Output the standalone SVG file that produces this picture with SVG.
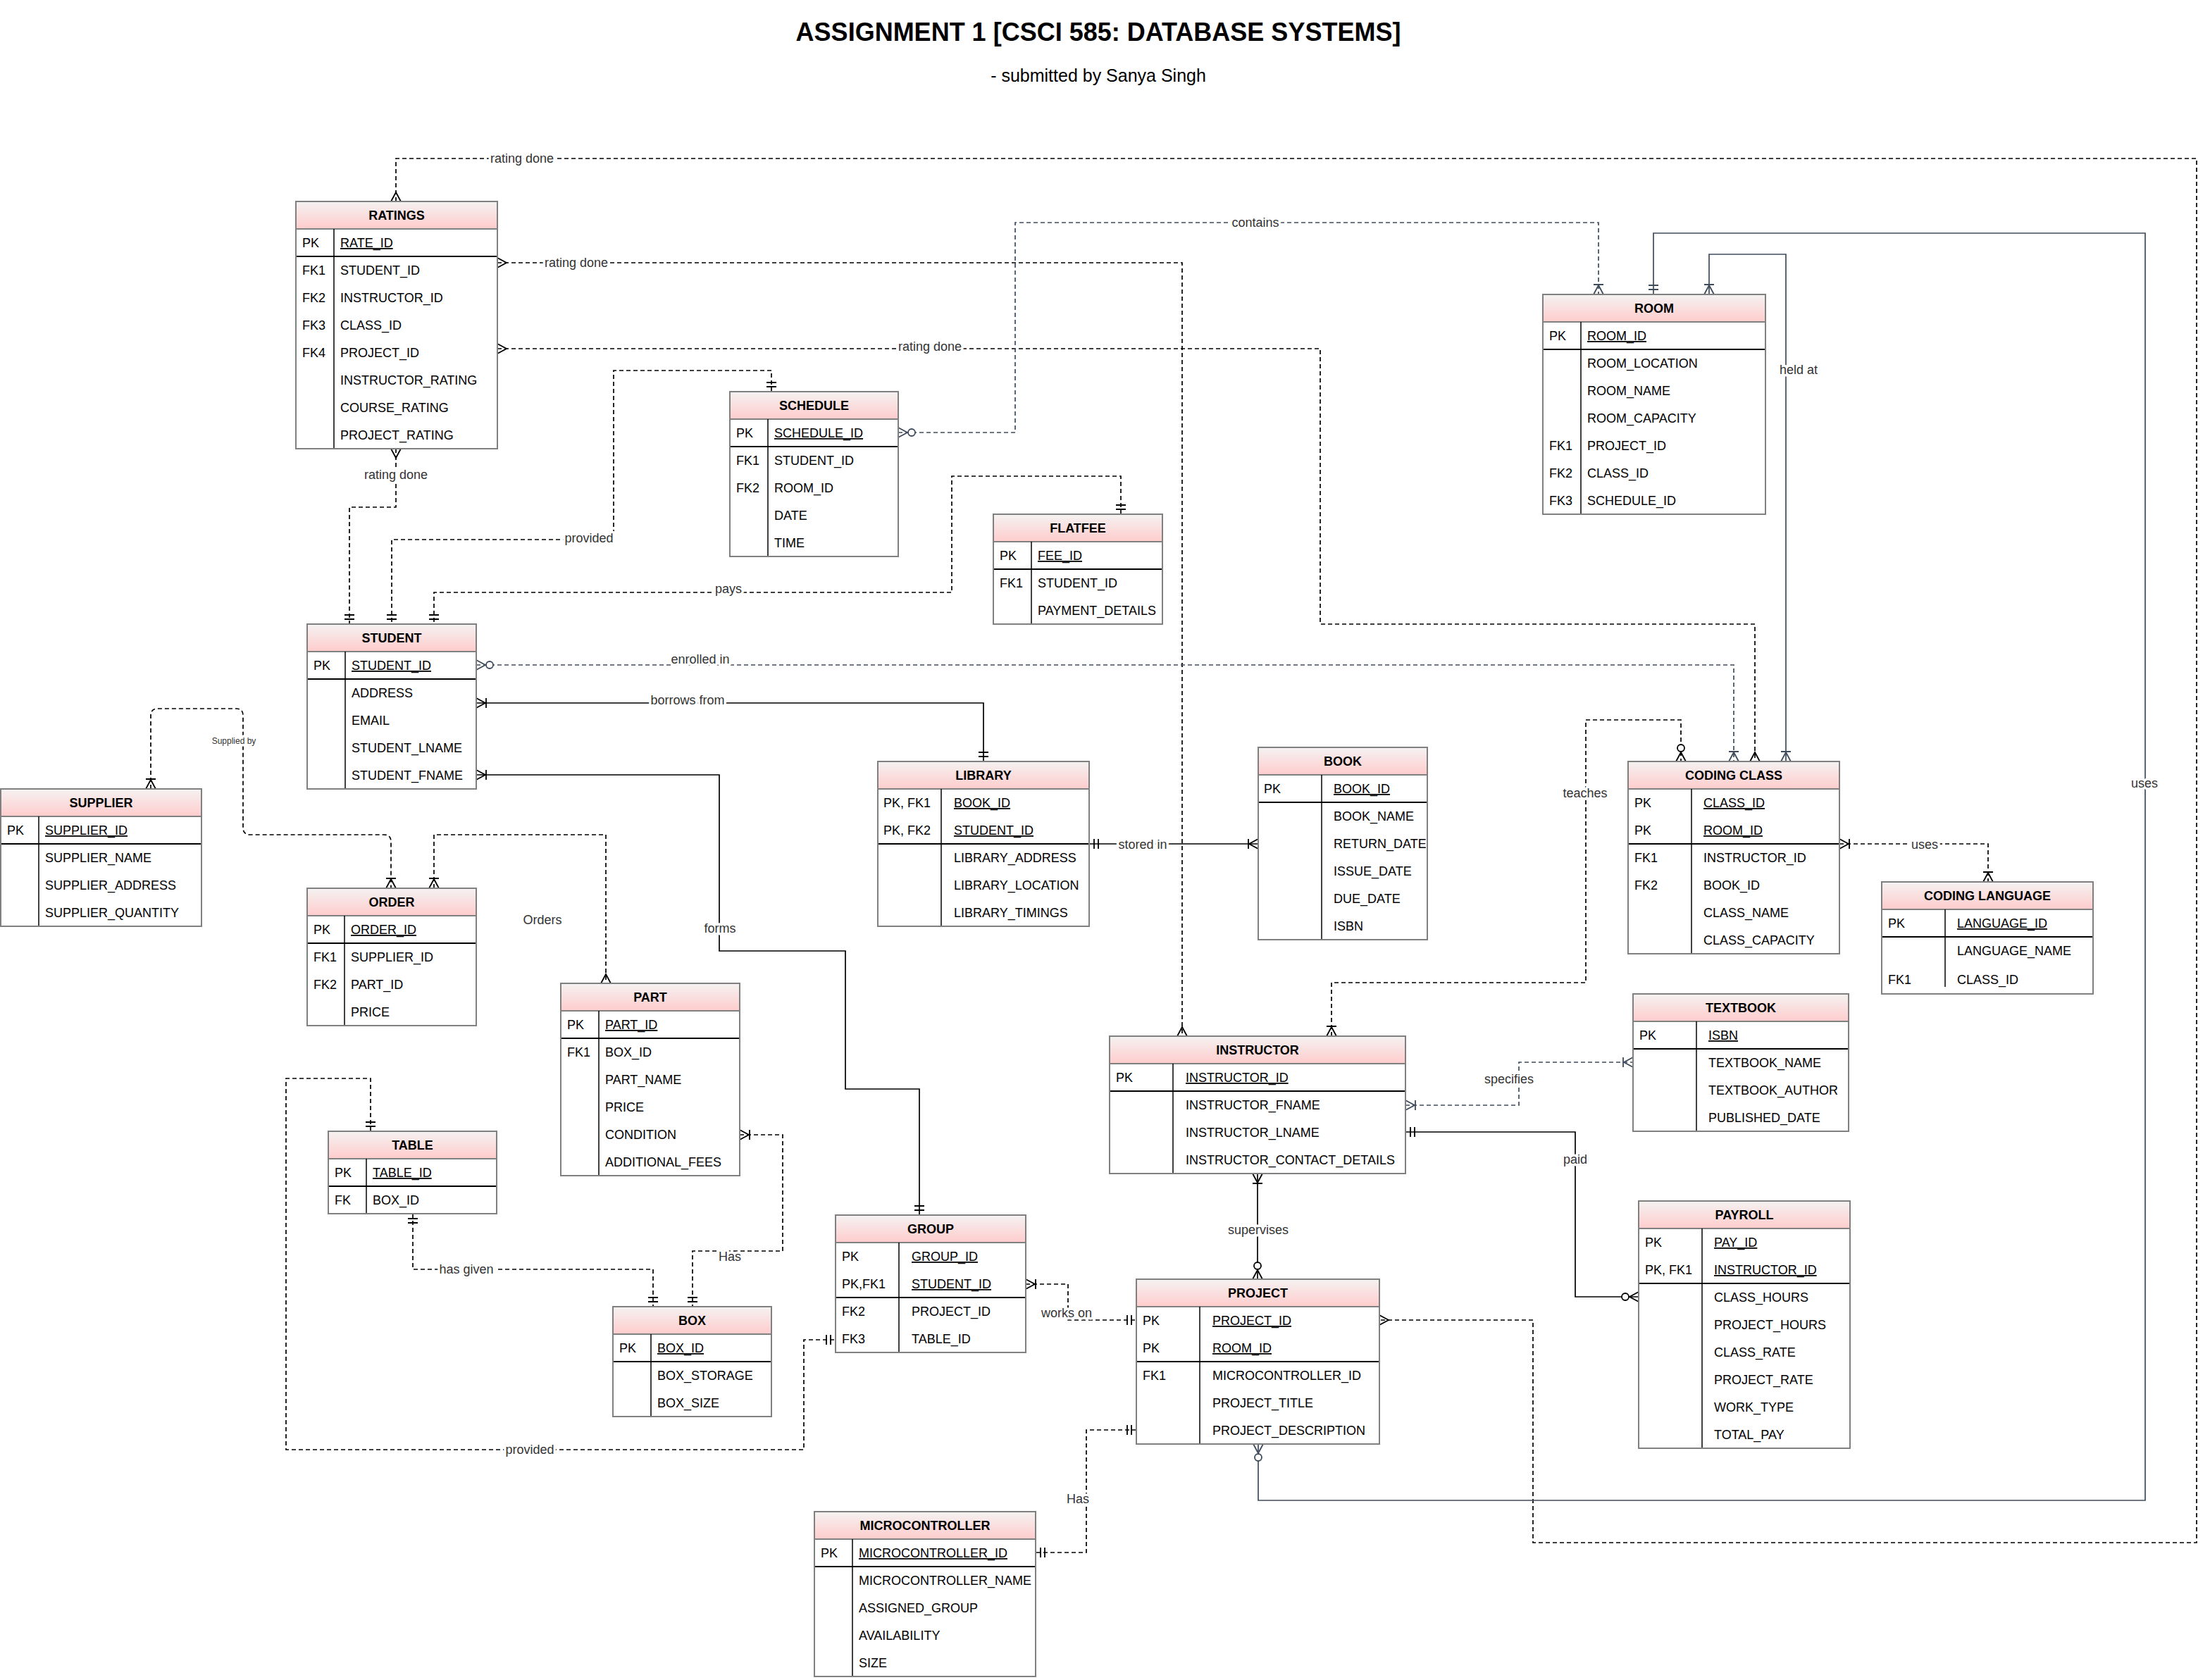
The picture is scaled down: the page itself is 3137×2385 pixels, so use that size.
<svg xmlns="http://www.w3.org/2000/svg" width="3137" height="2385" viewBox="0 0 3137 2385">
<defs>
<linearGradient id="hg" x1="0" y1="0" x2="0" y2="1">
<stop offset="0" stop-color="#f5f2f2"/>
<stop offset="1" stop-color="#ffcccc"/>
</linearGradient>
<clipPath id="clipBook"><rect x="1786" y="1061" width="238" height="273"/></clipPath>
<marker id="oneB" markerUnits="userSpaceOnUse" orient="auto-start-reverse" viewBox="-30 -15 40 30" markerWidth="40" markerHeight="30" refX="0" refY="0" overflow="visible"><path d="M-7,-7V7M-13,-7V7" fill="none" stroke="#000" stroke-width="1.8"/></marker>
<marker id="manyB" markerUnits="userSpaceOnUse" orient="auto-start-reverse" viewBox="-30 -15 40 30" markerWidth="40" markerHeight="30" refX="0" refY="0" overflow="visible"><path d="M0,-7L-13,0L0,7" fill="none" stroke="#000" stroke-width="1.8"/></marker>
<marker id="omB" markerUnits="userSpaceOnUse" orient="auto-start-reverse" viewBox="-30 -15 40 30" markerWidth="40" markerHeight="30" refX="0" refY="0" overflow="visible"><path d="M0,-7L-13,0L0,7M-14,-7V7" fill="none" stroke="#000" stroke-width="1.8"/></marker>
<marker id="zmB" markerUnits="userSpaceOnUse" orient="auto-start-reverse" viewBox="-30 -15 40 30" markerWidth="40" markerHeight="30" refX="0" refY="0" overflow="visible"><path d="M0,-7L-13,0L0,7" fill="none" stroke="#000" stroke-width="1.8"/><circle cx="-19" cy="0" r="5" fill="#fff" stroke="#000" stroke-width="1.8"/></marker>
<marker id="oneS" markerUnits="userSpaceOnUse" orient="auto-start-reverse" viewBox="-30 -15 40 30" markerWidth="40" markerHeight="30" refX="0" refY="0" overflow="visible"><path d="M-7,-7V7M-13,-7V7" fill="none" stroke="#3f4b5b" stroke-width="1.8"/></marker>
<marker id="omS" markerUnits="userSpaceOnUse" orient="auto-start-reverse" viewBox="-30 -15 40 30" markerWidth="40" markerHeight="30" refX="0" refY="0" overflow="visible"><path d="M0,-7L-13,0L0,7M-14,-7V7" fill="none" stroke="#3f4b5b" stroke-width="1.8"/></marker>
<marker id="zmS" markerUnits="userSpaceOnUse" orient="auto-start-reverse" viewBox="-30 -15 40 30" markerWidth="40" markerHeight="30" refX="0" refY="0" overflow="visible"><path d="M0,-7L-13,0L0,7" fill="none" stroke="#3f4b5b" stroke-width="1.8"/><circle cx="-19" cy="0" r="5" fill="#fff" stroke="#3f4b5b" stroke-width="1.8"/></marker>
</defs>
<style>
.c{fill:none;stroke:#000;stroke-width:1.7}
.d{stroke-dasharray:6 4}
.s{stroke:#3f4b5b}
.lbl{font-family:"Liberation Sans",Arial,sans-serif;font-size:18px;fill:#333;text-anchor:middle;paint-order:stroke;stroke:#fff;stroke-width:7px;stroke-linejoin:round}
.sm{font-size:12px}
.body{fill:#fff}
.hdr{fill:url(#hg);stroke:#808080;stroke-width:2}
.frame{fill:none;stroke:#808080;stroke-width:2}
.dv{stroke:#000;stroke-width:1.5}
.sp{stroke:#000;stroke-width:2}
.t{font-family:"Liberation Sans",Arial,sans-serif;font-size:18px;fill:#000}
.h{font-weight:bold;text-anchor:middle}
.u{text-decoration:underline}
.ttl{font-family:"Liberation Sans",Arial,sans-serif;fill:#000;text-anchor:middle}
</style>
<rect x="0" y="0" width="3137" height="2385" fill="#fff"/>
<text class="ttl" x="1559" y="58" font-size="36" font-weight="bold">ASSIGNMENT 1 [CSCI 585: DATABASE SYSTEMS]</text>
<text class="ttl" x="1559" y="116" font-size="25">- submitted by Sanya Singh</text>

<g id="connectors">
<path class="c d" d="M562,286V225H3118V2190H2176V1874H1958" marker-start="url(#manyB)" marker-end="url(#manyB)"/>
<path class="c d" d="M706,373H1678V1471" marker-start="url(#manyB)" marker-end="url(#manyB)"/>
<path class="c d" d="M706,495H1874V886H2491V1081" marker-start="url(#manyB)" marker-end="url(#manyB)"/>
<path class="c d" d="M562,637V720H496V886" marker-start="url(#manyB)" marker-end="url(#oneB)"/>
<path class="c d" d="M1095,556V526H871V766H556V886" marker-start="url(#oneB)" marker-end="url(#oneB)"/>
<path class="c d" d="M1591,730V676H1351V841H616V886" marker-start="url(#oneB)" marker-end="url(#oneB)"/>
<path class="c d s" d="M1275,614H1441V316H2269V418" marker-start="url(#zmS)" marker-end="url(#omS)"/>
<path class="c s" d="M2347,418V331H3045V2130H1786V2050" marker-start="url(#oneS)" marker-end="url(#zmS)"/>
<path class="c s" d="M2426,418V361H2535V1081" marker-start="url(#omS)" marker-end="url(#omS)"/>
<path class="c d s" d="M676,944H2461V1081" marker-start="url(#zmS)" marker-end="url(#omS)"/>
<path class="c" d="M676,998H1396V1081" marker-start="url(#omB)" marker-end="url(#oneB)"/>
<path class="c" d="M676,1100H1021V1350H1200V1546H1305V1725" marker-start="url(#omB)" marker-end="url(#oneB)"/>
<path class="c" d="M1546,1198H1786" marker-start="url(#oneB)" marker-end="url(#omB)"/>
<path class="c d" d="M214,1120V1016Q214,1006 224,1006H335Q345,1006 345,1016V1175Q345,1185 355,1185H545Q555,1185 555,1195V1261" marker-start="url(#omB)" marker-end="url(#omB)"/>
<path class="c d" d="M616,1261V1185H860V1396" marker-start="url(#omB)" marker-end="url(#manyB)"/>
<path class="c d" d="M526,1606V1531H406V2058H1141V1902H1186" marker-start="url(#oneB)" marker-end="url(#oneB)"/>
<path class="c d" d="M586,1723V1802H927V1855" marker-start="url(#oneB)" marker-end="url(#oneB)"/>
<path class="c d" d="M1050,1611H1111V1776H983V1855" marker-start="url(#omB)" marker-end="url(#oneB)"/>
<path class="c d" d="M1456,1823H1516V1874H1613" marker-start="url(#omB)" marker-end="url(#oneB)"/>
<path class="c d" d="M1613,2030H1542V2204H1470" marker-start="url(#oneB)" marker-end="url(#oneB)"/>
<path class="c" d="M1785,1666V1816" marker-start="url(#omB)" marker-end="url(#zmB)"/>
<path class="c d s" d="M1995,1569H2156V1508H2318" marker-start="url(#omS)" marker-end="url(#omS)"/>
<path class="c" d="M1995,1607H2236V1841H2326" marker-start="url(#oneB)" marker-end="url(#zmB)"/>
<path class="c d" d="M1890,1471V1395H2251V1022H2386V1081" marker-start="url(#omB)" marker-end="url(#zmB)"/>
<path class="c d" d="M2611,1198H2822V1252" marker-start="url(#omB)" marker-end="url(#omB)"/>
<text class="lbl" x="741" y="231">rating done</text>
<text class="lbl" x="818" y="379">rating done</text>
<text class="lbl" x="1320" y="498">rating done</text>
<text class="lbl" x="562" y="680">rating done</text>
<text class="lbl" x="1782" y="322">contains</text>
<text class="lbl" x="2553" y="531">held at</text>
<text class="lbl" x="836" y="770">provided</text>
<text class="lbl" x="1034" y="842">pays</text>
<text class="lbl" x="994" y="942">enrolled in</text>
<text class="lbl" x="976" y="1000">borrows from</text>
<text class="lbl" x="1022" y="1324">forms</text>
<text class="lbl" x="1622" y="1205">stored in</text>
<text class="lbl sm" x="332" y="1056">Supplied by</text>
<text class="lbl" x="770" y="1312">Orders</text>
<text class="lbl" x="2250" y="1132">teaches</text>
<text class="lbl" x="2732" y="1205">uses</text>
<text class="lbl" x="3044" y="1118">uses</text>
<text class="lbl" x="2142" y="1538">specifies</text>
<text class="lbl" x="2236" y="1652">paid</text>
<text class="lbl" x="1786" y="1752">supervises</text>
<text class="lbl" x="662" y="1808">has given</text>
<text class="lbl" x="1036" y="1790">Has</text>
<text class="lbl" x="1514" y="1870">works on</text>
<text class="lbl" x="752" y="2064">provided</text>
<text class="lbl" x="1530" y="2134">Has</text>
</g>

<g id="ratings">
<rect class="body" x="420" y="286" width="286" height="351"/>
<rect class="hdr" x="420" y="286" width="286" height="39"/>
<line class="dv" x1="474" y1="325" x2="474" y2="637"/>
<line class="sp" x1="420" y1="364" x2="706" y2="364"/>
<rect class="frame" x="420" y="286" width="286" height="351"/>
<text class="t h" x="563" y="312">RATINGS</text>
<text class="t" x="429" y="351">PK</text><text class="t u" x="483" y="351">RATE_ID</text>
<text class="t" x="429" y="390">FK1</text><text class="t" x="483" y="390">STUDENT_ID</text>
<text class="t" x="429" y="429">FK2</text><text class="t" x="483" y="429">INSTRUCTOR_ID</text>
<text class="t" x="429" y="468">FK3</text><text class="t" x="483" y="468">CLASS_ID</text>
<text class="t" x="429" y="507">FK4</text><text class="t" x="483" y="507">PROJECT_ID</text>
<text class="t" x="483" y="546">INSTRUCTOR_RATING</text>
<text class="t" x="483" y="585">COURSE_RATING</text>
<text class="t" x="483" y="624">PROJECT_RATING</text>
</g>

<g id="schedule">
<rect class="body" x="1036" y="556" width="239" height="234"/>
<rect class="hdr" x="1036" y="556" width="239" height="39"/>
<line class="dv" x1="1090" y1="595" x2="1090" y2="790"/>
<line class="sp" x1="1036" y1="634" x2="1275" y2="634"/>
<rect class="frame" x="1036" y="556" width="239" height="234"/>
<text class="t h" x="1155.5" y="582">SCHEDULE</text>
<text class="t" x="1045" y="621">PK</text><text class="t u" x="1099" y="621">SCHEDULE_ID</text>
<text class="t" x="1045" y="660">FK1</text><text class="t" x="1099" y="660">STUDENT_ID</text>
<text class="t" x="1045" y="699">FK2</text><text class="t" x="1099" y="699">ROOM_ID</text>
<text class="t" x="1099" y="738">DATE</text>
<text class="t" x="1099" y="777">TIME</text>
</g>

<g id="flatfee">
<rect class="body" x="1410" y="730" width="240" height="156"/>
<rect class="hdr" x="1410" y="730" width="240" height="39"/>
<line class="dv" x1="1464" y1="769" x2="1464" y2="886"/>
<line class="sp" x1="1410" y1="808" x2="1650" y2="808"/>
<rect class="frame" x="1410" y="730" width="240" height="156"/>
<text class="t h" x="1530" y="756">FLATFEE</text>
<text class="t" x="1419" y="795">PK</text><text class="t u" x="1473" y="795">FEE_ID</text>
<text class="t" x="1419" y="834">FK1</text><text class="t" x="1473" y="834">STUDENT_ID</text>
<text class="t" x="1473" y="873">PAYMENT_DETAILS</text>
</g>

<g id="room">
<rect class="body" x="2190" y="418" width="316" height="312"/>
<rect class="hdr" x="2190" y="418" width="316" height="39"/>
<line class="dv" x1="2244" y1="457" x2="2244" y2="730"/>
<line class="sp" x1="2190" y1="496" x2="2506" y2="496"/>
<rect class="frame" x="2190" y="418" width="316" height="312"/>
<text class="t h" x="2348" y="444">ROOM</text>
<text class="t" x="2199" y="483">PK</text><text class="t u" x="2253" y="483">ROOM_ID</text>
<text class="t" x="2253" y="522">ROOM_LOCATION</text>
<text class="t" x="2253" y="561">ROOM_NAME</text>
<text class="t" x="2253" y="600">ROOM_CAPACITY</text>
<text class="t" x="2199" y="639">FK1</text><text class="t" x="2253" y="639">PROJECT_ID</text>
<text class="t" x="2199" y="678">FK2</text><text class="t" x="2253" y="678">CLASS_ID</text>
<text class="t" x="2199" y="717">FK3</text><text class="t" x="2253" y="717">SCHEDULE_ID</text>
</g>

<g id="student">
<rect class="body" x="436" y="886" width="240" height="234"/>
<rect class="hdr" x="436" y="886" width="240" height="39"/>
<line class="dv" x1="490" y1="925" x2="490" y2="1120"/>
<line class="sp" x1="436" y1="964" x2="676" y2="964"/>
<rect class="frame" x="436" y="886" width="240" height="234"/>
<text class="t h" x="556" y="912">STUDENT</text>
<text class="t" x="445" y="951">PK</text><text class="t u" x="499" y="951">STUDENT_ID</text>
<text class="t" x="499" y="990">ADDRESS</text>
<text class="t" x="499" y="1029">EMAIL</text>
<text class="t" x="499" y="1068">STUDENT_LNAME</text>
<text class="t" x="499" y="1107">STUDENT_FNAME</text>
</g>

<g id="supplier">
<rect class="body" x="1" y="1120" width="285" height="195"/>
<rect class="hdr" x="1" y="1120" width="285" height="39"/>
<line class="dv" x1="55" y1="1159" x2="55" y2="1315"/>
<line class="sp" x1="1" y1="1198" x2="286" y2="1198"/>
<rect class="frame" x="1" y="1120" width="285" height="195"/>
<text class="t h" x="143.5" y="1146">SUPPLIER</text>
<text class="t" x="10" y="1185">PK</text><text class="t u" x="64" y="1185">SUPPLIER_ID</text>
<text class="t" x="64" y="1224">SUPPLIER_NAME</text>
<text class="t" x="64" y="1263">SUPPLIER_ADDRESS</text>
<text class="t" x="64" y="1302">SUPPLIER_QUANTITY</text>
</g>

<g id="order">
<rect class="body" x="436" y="1261" width="240" height="195"/>
<rect class="hdr" x="436" y="1261" width="240" height="39"/>
<line class="dv" x1="489" y1="1300" x2="489" y2="1456"/>
<line class="sp" x1="436" y1="1339" x2="676" y2="1339"/>
<rect class="frame" x="436" y="1261" width="240" height="195"/>
<text class="t h" x="556" y="1287">ORDER</text>
<text class="t" x="445" y="1326">PK</text><text class="t u" x="498" y="1326">ORDER_ID</text>
<text class="t" x="445" y="1365">FK1</text><text class="t" x="498" y="1365">SUPPLIER_ID</text>
<text class="t" x="445" y="1404">FK2</text><text class="t" x="498" y="1404">PART_ID</text>
<text class="t" x="498" y="1443">PRICE</text>
</g>

<g id="library">
<rect class="body" x="1246" y="1081" width="300" height="234"/>
<rect class="hdr" x="1246" y="1081" width="300" height="39"/>
<line class="dv" x1="1336" y1="1120" x2="1336" y2="1315"/>
<line class="sp" x1="1246" y1="1198" x2="1546" y2="1198"/>
<rect class="frame" x="1246" y="1081" width="300" height="234"/>
<text class="t h" x="1396" y="1107">LIBRARY</text>
<text class="t" x="1254" y="1146">PK, FK1</text><text class="t u" x="1354" y="1146">BOOK_ID</text>
<text class="t" x="1254" y="1185">PK, FK2</text><text class="t u" x="1354" y="1185">STUDENT_ID</text>
<text class="t" x="1354" y="1224">LIBRARY_ADDRESS</text>
<text class="t" x="1354" y="1263">LIBRARY_LOCATION</text>
<text class="t" x="1354" y="1302">LIBRARY_TIMINGS</text>
</g>

<g id="book">
<rect class="body" x="1786" y="1061" width="240" height="273"/>
<rect class="hdr" x="1786" y="1061" width="240" height="39"/>
<line class="dv" x1="1876" y1="1100" x2="1876" y2="1334"/>
<line class="sp" x1="1786" y1="1139" x2="2026" y2="1139"/>
<text class="t h" x="1906" y="1087">BOOK</text>
<text class="t" x="1794" y="1126">PK</text>
<g clip-path="url(#clipBook)">
<text class="t u" x="1893" y="1126">BOOK_ID</text>
<text class="t" x="1893" y="1165">BOOK_NAME</text>
<text class="t" x="1893" y="1204">RETURN_DATE</text>
<text class="t" x="1893" y="1243">ISSUE_DATE</text>
<text class="t" x="1893" y="1282">DUE_DATE</text>
<text class="t" x="1893" y="1321">ISBN</text>
</g>
<rect class="frame" x="1786" y="1061" width="240" height="273"/>
</g>

<g id="coding-class">
<rect class="body" x="2311" y="1081" width="300" height="273"/>
<rect class="hdr" x="2311" y="1081" width="300" height="39"/>
<line class="dv" x1="2401" y1="1120" x2="2401" y2="1354"/>
<line class="sp" x1="2311" y1="1198" x2="2611" y2="1198"/>
<rect class="frame" x="2311" y="1081" width="300" height="273"/>
<text class="t h" x="2461" y="1107">CODING CLASS</text>
<text class="t" x="2320" y="1146">PK</text><text class="t u" x="2418" y="1146">CLASS_ID</text>
<text class="t" x="2320" y="1185">PK</text><text class="t u" x="2418" y="1185">ROOM_ID</text>
<text class="t" x="2320" y="1224">FK1</text><text class="t" x="2418" y="1224">INSTRUCTOR_ID</text>
<text class="t" x="2320" y="1263">FK2</text><text class="t" x="2418" y="1263">BOOK_ID</text>
<text class="t" x="2418" y="1302">CLASS_NAME</text>
<text class="t" x="2418" y="1341">CLASS_CAPACITY</text>
</g>

<g id="coding-language">
<rect class="body" x="2671" y="1252" width="300" height="159"/>
<rect class="hdr" x="2671" y="1252" width="300" height="39"/>
<line class="dv" x1="2761" y1="1291" x2="2761" y2="1401"/>
<line class="sp" x1="2671" y1="1330" x2="2971" y2="1330"/>
<rect class="frame" x="2671" y="1252" width="300" height="159"/>
<text class="t h" x="2821" y="1278">CODING LANGUAGE</text>
<text class="t" x="2680" y="1317">PK</text><text class="t u" x="2778" y="1317">LANGUAGE_ID</text>
<text class="t" x="2778" y="1356">LANGUAGE_NAME</text>
<text class="t" x="2680" y="1397">FK1</text><text class="t" x="2778" y="1397">CLASS_ID</text>
</g>

<g id="textbook">
<rect class="body" x="2318" y="1411" width="306" height="195"/>
<rect class="hdr" x="2318" y="1411" width="306" height="39"/>
<line class="dv" x1="2408" y1="1450" x2="2408" y2="1606"/>
<line class="sp" x1="2318" y1="1489" x2="2624" y2="1489"/>
<rect class="frame" x="2318" y="1411" width="306" height="195"/>
<text class="t h" x="2471" y="1437">TEXTBOOK</text>
<text class="t" x="2327" y="1476">PK</text><text class="t u" x="2425" y="1476">ISBN</text>
<text class="t" x="2425" y="1515">TEXTBOOK_NAME</text>
<text class="t" x="2425" y="1554">TEXTBOOK_AUTHOR</text>
<text class="t" x="2425" y="1593">PUBLISHED_DATE</text>
</g>

<g id="instructor">
<rect class="body" x="1575" y="1471" width="420" height="195"/>
<rect class="hdr" x="1575" y="1471" width="420" height="39"/>
<line class="dv" x1="1665" y1="1510" x2="1665" y2="1666"/>
<line class="sp" x1="1575" y1="1549" x2="1995" y2="1549"/>
<rect class="frame" x="1575" y="1471" width="420" height="195"/>
<text class="t h" x="1785" y="1497">INSTRUCTOR</text>
<text class="t" x="1584" y="1536">PK</text><text class="t u" x="1683" y="1536">INSTRUCTOR_ID</text>
<text class="t" x="1683" y="1575">INSTRUCTOR_FNAME</text>
<text class="t" x="1683" y="1614">INSTRUCTOR_LNAME</text>
<text class="t" x="1683" y="1653">INSTRUCTOR_CONTACT_DETAILS</text>
</g>

<g id="part">
<rect class="body" x="796" y="1396" width="254" height="273"/>
<rect class="hdr" x="796" y="1396" width="254" height="39"/>
<line class="dv" x1="850" y1="1435" x2="850" y2="1669"/>
<line class="sp" x1="796" y1="1474" x2="1050" y2="1474"/>
<rect class="frame" x="796" y="1396" width="254" height="273"/>
<text class="t h" x="923" y="1422">PART</text>
<text class="t" x="805" y="1461">PK</text><text class="t u" x="859" y="1461">PART_ID</text>
<text class="t" x="805" y="1500">FK1</text><text class="t" x="859" y="1500">BOX_ID</text>
<text class="t" x="859" y="1539">PART_NAME</text>
<text class="t" x="859" y="1578">PRICE</text>
<text class="t" x="859" y="1617">CONDITION</text>
<text class="t" x="859" y="1656">ADDITIONAL_FEES</text>
</g>

<g id="table">
<rect class="body" x="466" y="1606" width="239" height="117"/>
<rect class="hdr" x="466" y="1606" width="239" height="39"/>
<line class="dv" x1="520" y1="1645" x2="520" y2="1723"/>
<line class="sp" x1="466" y1="1684" x2="705" y2="1684"/>
<rect class="frame" x="466" y="1606" width="239" height="117"/>
<text class="t h" x="585.5" y="1632">TABLE</text>
<text class="t" x="475" y="1671">PK</text><text class="t u" x="529" y="1671">TABLE_ID</text>
<text class="t" x="475" y="1710">FK</text><text class="t" x="529" y="1710">BOX_ID</text>
</g>

<g id="box">
<rect class="body" x="870" y="1855" width="225" height="156"/>
<rect class="hdr" x="870" y="1855" width="225" height="39"/>
<line class="dv" x1="924" y1="1894" x2="924" y2="2011"/>
<line class="sp" x1="870" y1="1933" x2="1095" y2="1933"/>
<rect class="frame" x="870" y="1855" width="225" height="156"/>
<text class="t h" x="982.5" y="1881">BOX</text>
<text class="t" x="879" y="1920">PK</text><text class="t u" x="933" y="1920">BOX_ID</text>
<text class="t" x="933" y="1959">BOX_STORAGE</text>
<text class="t" x="933" y="1998">BOX_SIZE</text>
</g>

<g id="group">
<rect class="body" x="1186" y="1725" width="270" height="195"/>
<rect class="hdr" x="1186" y="1725" width="270" height="39"/>
<line class="dv" x1="1276" y1="1764" x2="1276" y2="1920"/>
<line class="sp" x1="1186" y1="1842" x2="1456" y2="1842"/>
<rect class="frame" x="1186" y="1725" width="270" height="195"/>
<text class="t h" x="1321" y="1751">GROUP</text>
<text class="t" x="1195" y="1790">PK</text><text class="t u" x="1294" y="1790">GROUP_ID</text>
<text class="t" x="1195" y="1829">PK,FK1</text><text class="t u" x="1294" y="1829">STUDENT_ID</text>
<text class="t" x="1195" y="1868">FK2</text><text class="t" x="1294" y="1868">PROJECT_ID</text>
<text class="t" x="1195" y="1907">FK3</text><text class="t" x="1294" y="1907">TABLE_ID</text>
</g>

<g id="project">
<rect class="body" x="1613" y="1816" width="345" height="234"/>
<rect class="hdr" x="1613" y="1816" width="345" height="39"/>
<line class="dv" x1="1703" y1="1855" x2="1703" y2="2050"/>
<line class="sp" x1="1613" y1="1933" x2="1958" y2="1933"/>
<rect class="frame" x="1613" y="1816" width="345" height="234"/>
<text class="t h" x="1785.5" y="1842">PROJECT</text>
<text class="t" x="1622" y="1881">PK</text><text class="t u" x="1721" y="1881">PROJECT_ID</text>
<text class="t" x="1622" y="1920">PK</text><text class="t u" x="1721" y="1920">ROOM_ID</text>
<text class="t" x="1622" y="1959">FK1</text><text class="t" x="1721" y="1959">MICROCONTROLLER_ID</text>
<text class="t" x="1721" y="1998">PROJECT_TITLE</text>
<text class="t" x="1721" y="2037">PROJECT_DESCRIPTION</text>
</g>

<g id="microcontroller">
<rect class="body" x="1156" y="2146" width="314" height="234"/>
<rect class="hdr" x="1156" y="2146" width="314" height="39"/>
<line class="dv" x1="1210" y1="2185" x2="1210" y2="2380"/>
<line class="sp" x1="1156" y1="2224" x2="1470" y2="2224"/>
<rect class="frame" x="1156" y="2146" width="314" height="234"/>
<text class="t h" x="1313" y="2172">MICROCONTROLLER</text>
<text class="t" x="1165" y="2211">PK</text><text class="t u" x="1219" y="2211">MICROCONTROLLER_ID</text>
<text class="t" x="1219" y="2250">MICROCONTROLLER_NAME</text>
<text class="t" x="1219" y="2289">ASSIGNED_GROUP</text>
<text class="t" x="1219" y="2328">AVAILABILITY</text>
<text class="t" x="1219" y="2367">SIZE</text>
</g>

<g id="payroll">
<rect class="body" x="2326" y="1705" width="300" height="351"/>
<rect class="hdr" x="2326" y="1705" width="300" height="39"/>
<line class="dv" x1="2416" y1="1744" x2="2416" y2="2056"/>
<line class="sp" x1="2326" y1="1822" x2="2626" y2="1822"/>
<rect class="frame" x="2326" y="1705" width="300" height="351"/>
<text class="t h" x="2476" y="1731">PAYROLL</text>
<text class="t" x="2335" y="1770">PK</text><text class="t u" x="2433" y="1770">PAY_ID</text>
<text class="t" x="2335" y="1809">PK, FK1</text><text class="t u" x="2433" y="1809">INSTRUCTOR_ID</text>
<text class="t" x="2433" y="1848">CLASS_HOURS</text>
<text class="t" x="2433" y="1887">PROJECT_HOURS</text>
<text class="t" x="2433" y="1926">CLASS_RATE</text>
<text class="t" x="2433" y="1965">PROJECT_RATE</text>
<text class="t" x="2433" y="2004">WORK_TYPE</text>
<text class="t" x="2433" y="2043">TOTAL_PAY</text>
</g>
</svg>
